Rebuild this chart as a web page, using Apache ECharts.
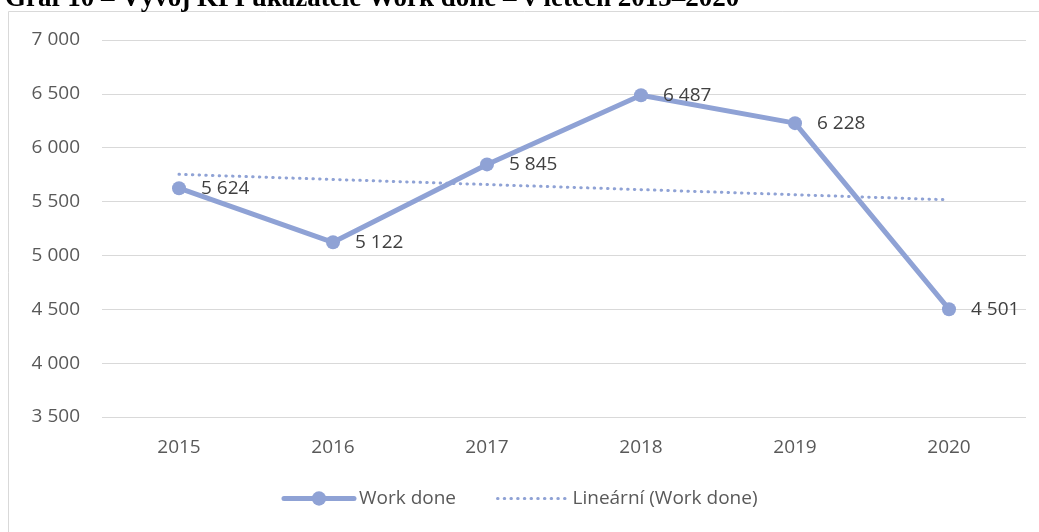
<!DOCTYPE html>
<html>
<head>
<meta charset="utf-8">
<script src="https://cdn.jsdelivr.net/npm/echarts@6/dist/echarts.min.js"></script>
<style>
  html, body { margin: 0; padding: 0; background: #fff; }
  #chart { width: 1039px; height: 532px; }
</style>
</head>
<body>
<div id="chart"></div>
<script>
const years = ['2015', '2016', '2017', '2018', '2019', '2020']
const workDone = [5624, 5122, 5845, 6487, 6228, 4501]
const titleText = 'Graf 10 – Vývoj KPI ukazatele Work done – v letech 2015–2020'

// lineární trend (metoda nejmenších čtverců)
const n = workDone.length
const mx = (n - 1) / 2
const my = workDone.reduce((a, b) => a + b, 0) / n
let sxy = 0, sxx = 0
workDone.forEach((v, i) => { sxy += (i - mx) * (v - my); sxx += (i - mx) * (i - mx) })
const slope = sxy / sxx
const trend = workDone.map((v, i) => +(my + slope * (i - mx)).toFixed(1))

const fmt = v => String(Math.round(v)).replace(/\B(?=(\d{3})+(?!\d))/g, ' ')
const blue = '#8FA2D5'
const txt = '#595959'
const font = 'Open Sans'
const fs = 19

const myChart = echarts.init(document.getElementById('chart'))
const option = {
  animation: false,
  title: {
    text: titleText,
    left: 0,
    top: -19,
    textStyle: { fontFamily: 'Liberation Serif', fontWeight: 'bold', fontSize: 27, color: '#000' }
  },
  graphic: [{
    type: 'rect',
    shape: { x: 8.5, y: 11.5, width: 1040, height: 540 },
    style: { fill: 'none', stroke: '#d9d9d9', lineWidth: 1 },
    silent: true,
    z: -1
  }],
  grid: { left: 102, right: 13, top: 40, bottom: 115 },
  legend: {
    bottom: 19,
    left: 'center',
    itemGap: 40,
    itemWidth: 70,
    itemHeight: 18,
    textStyle: { fontFamily: font, fontSize: fs, color: txt },
    data: [
      { name: 'Work done', lineStyle: { width: 5 } },
      { name: 'Lineární (Work done)', itemStyle: { opacity: 0 }, lineStyle: { width: 3 } }
    ]
  },
  xAxis: {
    type: 'category',
    data: years,
    boundaryGap: true,
    axisLine: { show: false },
    axisTick: { show: false },
    axisLabel: { margin: 21, fontFamily: font, fontSize: fs, color: txt }
  },
  yAxis: {
    type: 'value',
    min: 3500,
    max: 7000,
    interval: 500,
    axisLine: { show: false },
    axisTick: { show: false },
    splitLine: { lineStyle: { color: '#d9d9d9', width: 1 } },
    axisLabel: { margin: 22, fontFamily: font, fontSize: fs, color: txt, formatter: fmt }
  },
  series: [
    {
      name: 'Work done',
      type: 'line',
      data: workDone,
      symbol: 'circle',
      symbolSize: 14,
      lineStyle: { color: blue, width: 5, cap: 'round', join: 'round' },
      itemStyle: { color: blue },
      label: {
        show: true,
        position: 'right',
        distance: 15,
        fontFamily: font,
        fontSize: fs,
        color: '#404040',
        formatter: p => fmt(p.value)
      },
      z: 3
    },
    {
      name: 'Lineární (Work done)',
      type: 'line',
      data: trend,
      symbol: 'none',
      lineStyle: { color: blue, width: 3, type: [0.5, 6.2], cap: 'round' },
      itemStyle: { color: blue },
      z: 2
    }
  ]
}
myChart.setOption(option)
</script>
</body>
</html>
